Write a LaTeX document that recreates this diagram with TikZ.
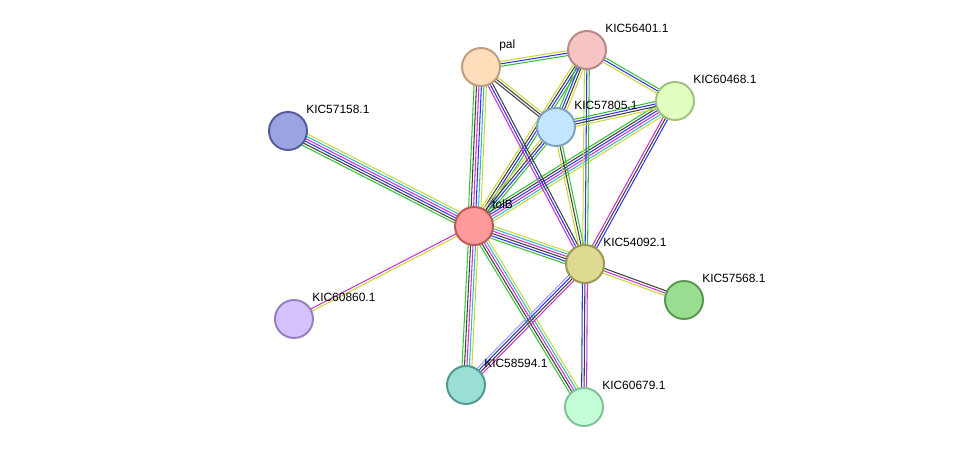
\documentclass[tikz,border=0pt]{standalone}
\usepackage{fontspec}
\setmainfont{Liberation Sans}
\usetikzlibrary{calc,backgrounds}

\definecolor{cgreen}{HTML}{33C433}
\definecolor{cblue}{HTML}{3333F0}
\definecolor{cmag}{HTML}{CC33CC}
\definecolor{cyg}{HTML}{C8D838}
\definecolor{cblack}{HTML}{404040}
\definecolor{ccyan}{HTML}{33BBCC}
\definecolor{chom}{HTML}{A0A0FF}

\tikzset{
  prot/.style 2 args={circle,draw=#2,fill=#1,line width=1.4pt,minimum size=0.95cm,inner sep=0},
  lbl/.style={anchor=west,font=\fontsize{8.5pt}{9pt}\selectfont,inner sep=0,xshift=0.45cm,yshift=0.55cm}
}

% #1 = number of lines, #2/#3 = nodes, #4 = colours
\newcommand{\stredge}[4]{%
  \foreach \c [count=\i] in {#4} {
    \pgfmathsetmacro\o{(\i-(#1+1)/2)*1.75}
    \draw[\c,line width=0.75pt] ($(#2)!\o pt!90:(#3)$) -- ($(#3)!\o pt!-90:(#2)$);
  }}

\begin{document}
\begin{tikzpicture}[x=0.025cm,y=-0.025cm]
  \useasboundingbox (0,0) rectangle (976,453);

  \definecolor{f1}{HTML}{FF9A9A}\definecolor{d1}{HTML}{C05858}
  \definecolor{f2}{HTML}{FFDCBA}\definecolor{d2}{HTML}{BF9E80}
  \definecolor{f3}{HTML}{F7C4C4}\definecolor{d3}{HTML}{B88888}
  \definecolor{f4}{HTML}{E2FFC2}\definecolor{d4}{HTML}{A0C080}
  \definecolor{f5}{HTML}{C2E6FF}\definecolor{d5}{HTML}{7FA0BF}
  \definecolor{f6}{HTML}{9AA4E2}\definecolor{d6}{HTML}{545C99}
  \definecolor{f7}{HTML}{DFDA92}\definecolor{d7}{HTML}{9C9752}
  \definecolor{f8}{HTML}{9ADE92}\definecolor{d8}{HTML}{579952}
  \definecolor{f9}{HTML}{D6C2FF}\definecolor{d9}{HTML}{9580C0}
  \definecolor{f10}{HTML}{9ADFD6}\definecolor{d10}{HTML}{529990}
  \definecolor{f11}{HTML}{C2FFD6}\definecolor{d11}{HTML}{80C096}

  \node[prot={f1}{d1}] (tolB) at (474,226) {};
  \node[prot={f2}{d2}] (pal) at (481,67) {};
  \node[prot={f3}{d3}] (k56401) at (587,50) {};
  \node[prot={f4}{d4}] (k60468) at (675,101) {};
  \node[prot={f5}{d5}] (k57805) at (556,127) {};
  \node[prot={f6}{d6}] (k57158) at (288,131) {};
  \node[prot={f7}{d7}] (k54092) at (585,264) {};
  \node[prot={f8}{d8}] (k57568) at (684,300) {};
  \node[prot={f9}{d9}] (k60860) at (294,319) {};
  \node[prot={f10}{d10}] (k58594) at (466,385) {};
  \node[prot={f11}{d11}] (k60679) at (584,407) {};

  \foreach \n/\t in {tolB/tolB, pal/pal, k56401/KIC56401.1, k60468/KIC60468.1,
      k57805/KIC57805.1, k57158/KIC57158.1, k54092/KIC54092.1, k57568/KIC57568.1,
      k60860/KIC60860.1, k58594/KIC58594.1, k60679/KIC60679.1}
    \node[lbl] (\n-lbl) at (\n) {\t};

  \begin{scope}[on background layer]
    \stredge{6}{tolB}{pal}{cyg,ccyan,cblue,cmag,cblack,cgreen}
    \stredge{4}{tolB}{k56401}{cgreen,cblue,cblack,cyg}
    \stredge{4}{tolB}{k57805}{cgreen,cblue,cblack,cyg}
    \stredge{6}{tolB}{k60468}{cyg,ccyan,cmag,cblue,cblack,cgreen}
    \stredge{6}{tolB}{k54092}{cgreen,cblue,cblack,cmag,ccyan,cyg}
    \stredge{6}{tolB}{k57158}{cyg,ccyan,cmag,cblue,cblack,cgreen}
    \stredge{2}{tolB}{k60860}{cmag,cyg}
    \stredge{5}{tolB}{k58594}{cgreen,cblack,cmag,ccyan,cyg}
    \stredge{5}{tolB}{k60679}{cgreen,cblack,cmag,ccyan,cyg}
    \stredge{3}{pal}{k56401}{cgreen,cblue,cyg}
    \stredge{3}{pal}{k57805}{cblack,cblack,cyg}
    \stredge{3}{pal}{k54092}{cmag,cblue,cblack}
    \stredge{4}{k56401}{k57805}{cgreen,cblue,cblack,cyg}
    \stredge{3}{k56401}{k60468}{cyg,cblue,cgreen}
    \stredge{3}{k56401}{k54092}{cyg,cblue,cgreen}
    \stredge{4}{k57805}{k60468}{cyg,cblack,cblue,cgreen}
    \stredge{3}{k57805}{k54092}{cyg,cblack,cgreen}
    \stredge{3}{k60468}{k54092}{cmag,cblack,cblue}
    \stredge{3}{k54092}{k57568}{cyg,cmag,cblack}
    \stredge{4}{k54092}{k58594}{chom,cblue,cblack,cmag}
    \stredge{3}{k54092}{k60679}{cblue,cblack,cmag}
  \end{scope}
\end{tikzpicture}
\end{document}
